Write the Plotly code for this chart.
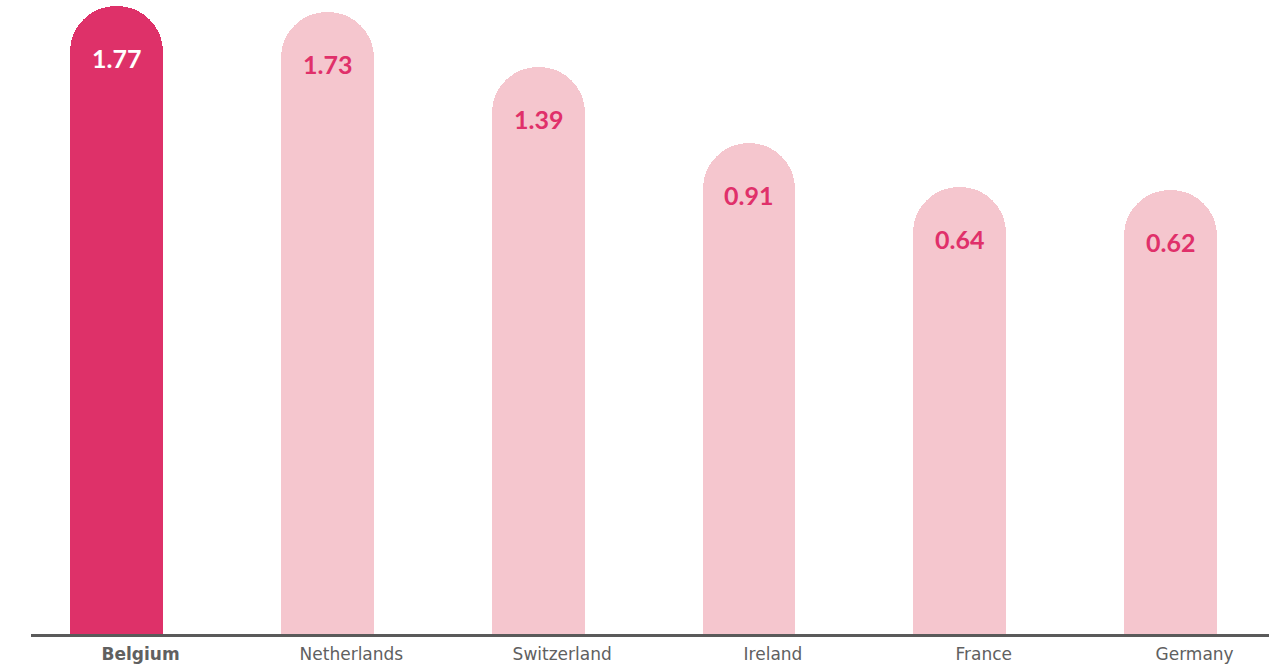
import plotly.graph_objects as go

countries = ["Belgium", "Netherlands", "Switzerland", "Ireland", "France", "Germany"]
values = [1.77, 1.73, 1.39, 0.91, 0.64, 0.62]
tick_labels = ["<b>Belgium</b>", "Netherlands", "Switzerland", "Ireland", "France", "Germany"]
highlight = "Belgium"

AXIS_FLOOR = -2.162
AXIS_TOP = 1.808
BAR_BASE = -3.0  # below the visible floor so the bar bottoms are cut square
DARK = "#de3169"
LIGHT = "#f5c6ce"

bar_colors = [DARK if c == highlight else LIGHT for c in countries]

fig = go.Figure()
fig.add_trace(go.Bar(
    x=countries,
    y=[v - BAR_BASE for v in values],
    base=BAR_BASE,
    width=0.44,
    marker=dict(color=bar_colors, cornerradius="50%", line=dict(width=0)),
    hoverinfo="skip",
))

for c, v in zip(countries, values):
    fig.add_annotation(
        x=c, y=v, text=f"<b>{v:.2f}</b>", showarrow=False,
        yanchor="middle", yshift=-52,
        font=dict(family="Lato, sans-serif", size=25,
                  color="#ffffff" if c == highlight else "#e0306a"),
    )

fig.update_layout(
    width=1269, height=667,
    margin=dict(l=31, r=0, t=0, b=33),
    paper_bgcolor="white", plot_bgcolor="white",
    showlegend=False,
    bargap=0,
    xaxis=dict(
        type="category",
        range=[-0.406, 5.467],
        tickvals=countries, ticktext=tick_labels,
        showline=True, linecolor="#5a5a5a", linewidth=3,
        ticks="", showgrid=False, zeroline=False,
        ticklabelshift=24, ticklabelstandoff=3,
        tickfont=dict(family="DejaVu Sans, sans-serif", size=17, color="#606060"),
        fixedrange=True,
    ),
    yaxis=dict(
        range=[AXIS_FLOOR, AXIS_TOP],
        visible=False, showgrid=False, zeroline=False, fixedrange=True,
    ),
)

fig.write_html("out.html", config={"displayModeBar": False},
               post_script="document.body.style.margin='0';")
